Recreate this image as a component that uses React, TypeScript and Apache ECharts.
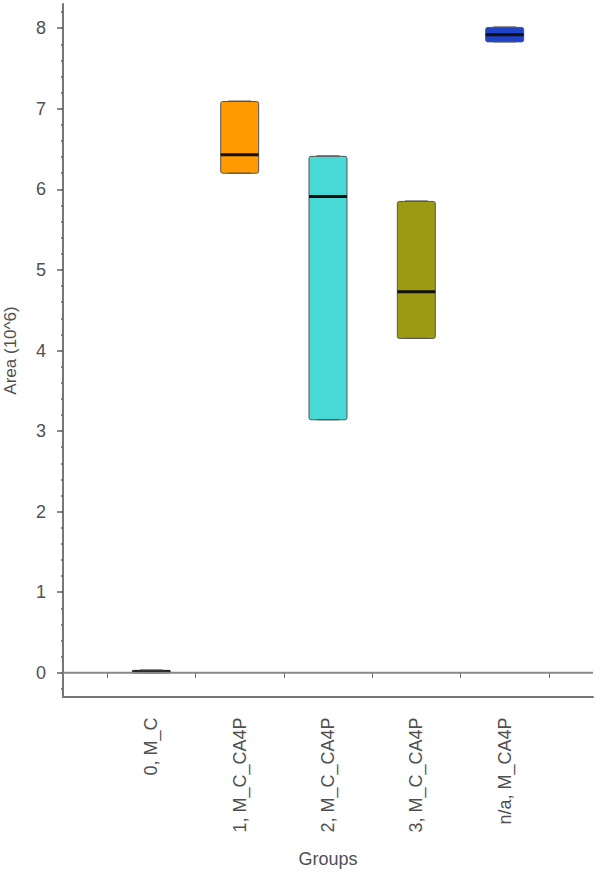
import React, { useEffect, useRef } from "react";
import * as echarts from "echarts";

const groups = ["0, M_C", "1, M_C_CA4P", "2, M_C_CA4P", "3, M_C_CA4P", "n/a, M_CA4P"];
const mins = [0, 6.2, 3.14, 4.15, 7.83];
const q1s = [0, 6.2, 3.14, 4.15, 7.83];
const medians = [0.012, 6.43, 5.91, 4.73, 7.92];
const q3s = [0.03, 7.09, 6.41, 5.85, 8.01];
const maxs = [0.03, 7.09, 6.41, 5.85, 8.01];
const colors = ["#1c1c1c", "#FF9A00", "#48D8D6", "#9C9A12", "#1E42C8"];
const zeroLine = [[0, 0], [1, 0]];

const FONT = "'Liberation Sans', Arial, sans-serif";
const TEXT_COLOR = "#505050";

export default function App() {
  const ref = useRef<HTMLDivElement>(null);
  useEffect(() => {
    document.body.style.margin = "0";
    if (!ref.current) return;
    const chart = echarts.init(ref.current, undefined, { renderer: "svg" });
    const data = groups.map((_, i) => [i, mins[i], q1s[i], medians[i], q3s[i], maxs[i]]);
    const unit = 530 / 6;
    const option: any = {
      animation: false,
      backgroundColor: "#ffffff",
      textStyle: { fontFamily: FONT },
      grid: [
        { left: 63, right: 7, top: 4, bottom: 180, outerBoundsMode: "none", containLabel: false },
        {
          left: 63 + unit / 2,
          right: 7 + unit / 2,
          top: 28.2,
          bottom: 204.2,
          outerBoundsMode: "none",
          containLabel: false,
        },
        { left: 63, right: 7, top: 12.06, bottom: 188.06, outerBoundsMode: "none", containLabel: false },
      ],
      xAxis: [
        {
          gridIndex: 0,
          type: "value",
          min: 0,
          max: 1,
          axisLine: { show: true, onZero: false, lineStyle: { color: "#777", width: 2 } },
          axisTick: { show: false },
          axisLabel: { show: false },
          splitLine: { show: false },
          name: "Groups",
          nameLocation: "middle",
          nameGap: 153,
          nameTextStyle: { fontSize: 18, color: TEXT_COLOR, fontFamily: FONT },
        },
        {
          gridIndex: 1,
          type: "category",
          data: groups,
          boundaryGap: true,
          offset: 24.6,
          axisLine: { show: false },
          axisTick: { show: true, length: 5, lineStyle: { color: "#666", width: 1 } },
          axisLabel: {
            rotate: 90,
            interval: 0,
            margin: 20,
            fontSize: 18,
            color: TEXT_COLOR,
            fontFamily: FONT,
          },
          splitLine: { show: false },
        },
        {
          gridIndex: 2,
          type: "value",
          min: 0,
          max: 1,
          show: false,
        },
      ],
      yAxis: [
        {
          gridIndex: 0,
          type: "value",
          min: -0.3,
          max: 8.3,
          axisLine: { show: true, lineStyle: { color: "#777", width: 2 } },
          axisTick: { show: false },
          axisLabel: { show: false },
          splitLine: { show: false },
          name: "Area (10^6)",
          nameLocation: "middle",
          nameGap: 44,
          nameTextStyle: { fontSize: 17, color: TEXT_COLOR, fontFamily: FONT },
        },
        {
          gridIndex: 1,
          type: "value",
          min: 0,
          max: 8,
          interval: 1,
          offset: unit / 2,
          axisLine: { show: false },
          axisTick: { show: true, length: 6, lineStyle: { color: "#666", width: 1.5 } },
          axisLabel: { margin: 17, fontSize: 18, color: TEXT_COLOR, fontFamily: FONT },
          splitLine: { show: false },
        },
        {
          gridIndex: 2,
          type: "value",
          min: -0.2,
          max: 8.2,
          interval: 0.2,
          axisLine: { show: false },
          axisTick: { show: true, length: 2, lineStyle: { color: "#666", width: 1.5 } },
          axisLabel: { show: false },
          splitLine: { show: false },
        },
      ],
      series: [
        {
          type: "line",
          xAxisIndex: 0,
          yAxisIndex: 0,
          data: zeroLine,
          symbol: "none",
          silent: true,
          lineStyle: { color: "#888", width: 2 },
        },
        {
          type: "custom",
          xAxisIndex: 1,
          yAxisIndex: 1,
          data,
          encode: { x: 0, y: [1, 2, 3, 4, 5] },
          renderItem: (params: any, api: any) => {
            const i = api.value(0);
            const lo = api.coord([i, api.value(1)]);
            const b1 = api.coord([i, api.value(2)]);
            const md = api.coord([i, api.value(3)]);
            const b3 = api.coord([i, api.value(4)]);
            const hi = api.coord([i, api.value(5)]);
            const w = api.size([1, 0])[0] * 0.43;
            const cx = b1[0];
            const color = colors[params.dataIndex];
            const cap = w * 0.3;
            return {
              type: "group",
              children: [
                {
                  type: "line",
                  shape: { x1: cx, y1: hi[1], x2: cx, y2: b3[1] },
                  style: { stroke: "#444", lineWidth: 1 },
                },
                {
                  type: "line",
                  shape: { x1: cx, y1: lo[1], x2: cx, y2: b1[1] },
                  style: { stroke: "#444", lineWidth: 1 },
                },
                {
                  type: "rect",
                  shape: { x: cx - w / 2, y: b3[1], width: w, height: Math.max(b1[1] - b3[1], 2), r: 2 },
                  style: { fill: color, stroke: "#555", lineWidth: 1 },
                },
                {
                  type: "line",
                  shape: { x1: cx - w / 2, y1: md[1], x2: cx + w / 2, y2: md[1] },
                  style: { stroke: "#111", lineWidth: 3 },
                },
                {
                  type: "line",
                  shape: { x1: cx - cap, y1: hi[1] - 0.5, x2: cx + cap, y2: hi[1] - 0.5 },
                  style: { stroke: "#555", lineWidth: 1 },
                },
                {
                  type: "line",
                  shape: { x1: cx - cap, y1: lo[1], x2: cx + cap, y2: lo[1] },
                  style: { stroke: "#555", lineWidth: 1 },
                },
              ],
            };
          },
        },
      ],
    };
    chart.setOption(option);
    return () => chart.dispose();
  }, []);
  return <div ref={ref} style={{ width: 600, height: 877 }} />;
}
